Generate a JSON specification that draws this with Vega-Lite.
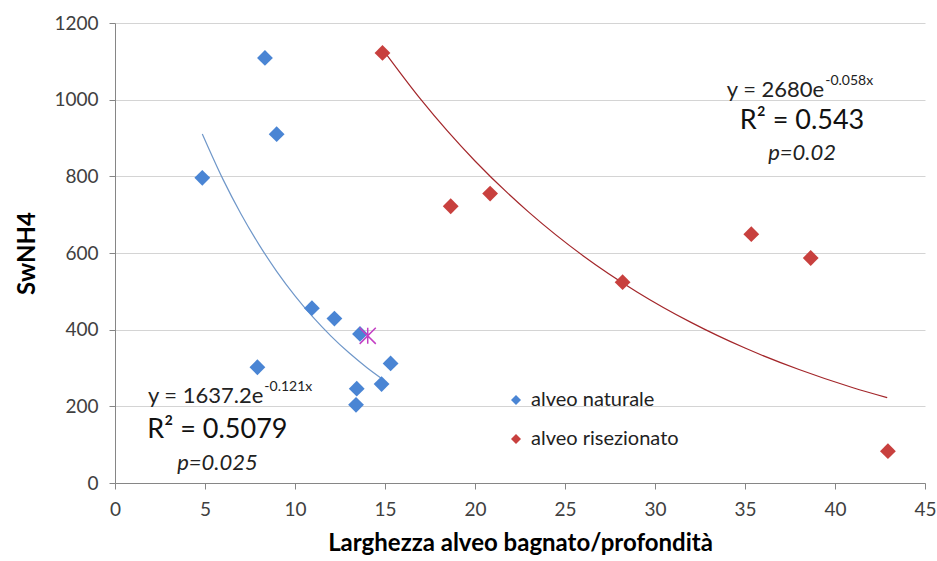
{
  "$schema": "https://vega.github.io/schema/vega-lite/v6.json",
  "width": 810,
  "height": 460,
  "autosize": {"type": "none"},
  "padding": {"left": 115, "top": 23, "right": 12, "bottom": 78},
  "background": "white",
  "config": {
    "font": "Lato",
    "view": {"stroke": null},
    "axis": {
      "domainColor": "#868686",
      "tickColor": "#868686",
      "tickSize": 6,
      "labelFontSize": 19,
      "labelColor": "#404040",
      "titleFontSize": 24,
      "titleFontWeight": "bold",
      "titleColor": "#000000",
      "gridColor": "#d4d4d4"
    },
    "legend": {
      "labelFontSize": 20,
      "labelColor": "#222222",
      "symbolSize": 100,
      "symbolType": "diamond",
      "rowPadding": 19,
      "labelOffset": 5
    }
  },
  "datasets": {
    "points": [
      {"x": 8.33, "y": 1109, "group": "alveo naturale"},
      {"x": 8.98, "y": 910, "group": "alveo naturale"},
      {"x": 4.85, "y": 796, "group": "alveo naturale"},
      {"x": 10.94, "y": 456, "group": "alveo naturale"},
      {"x": 12.19, "y": 429, "group": "alveo naturale"},
      {"x": 13.61, "y": 389, "group": "alveo naturale"},
      {"x": 7.91, "y": 302, "group": "alveo naturale"},
      {"x": 15.31, "y": 312, "group": "alveo naturale"},
      {"x": 14.81, "y": 258, "group": "alveo naturale"},
      {"x": 13.43, "y": 246, "group": "alveo naturale"},
      {"x": 13.39, "y": 204, "group": "alveo naturale"},
      {"x": 14.86, "y": 1122, "group": "alveo risezionato"},
      {"x": 18.65, "y": 722, "group": "alveo risezionato"},
      {"x": 20.84, "y": 755, "group": "alveo risezionato"},
      {"x": 28.2, "y": 524, "group": "alveo risezionato"},
      {"x": 35.35, "y": 649, "group": "alveo risezionato"},
      {"x": 38.65, "y": 587, "group": "alveo risezionato"},
      {"x": 42.94, "y": 83, "group": "alveo risezionato"}
    ],
    "curves": [
      {"x": 4.85, "y": 910.5, "group": "alveo naturale"},
      {"x": 6, "y": 792.1, "group": "alveo naturale"},
      {"x": 7, "y": 701.9, "group": "alveo naturale"},
      {"x": 8, "y": 621.9, "group": "alveo naturale"},
      {"x": 9, "y": 551.0, "group": "alveo naturale"},
      {"x": 10, "y": 488.2, "group": "alveo naturale"},
      {"x": 11, "y": 432.6, "group": "alveo naturale"},
      {"x": 12, "y": 383.3, "group": "alveo naturale"},
      {"x": 13, "y": 339.6, "group": "alveo naturale"},
      {"x": 14, "y": 300.9, "group": "alveo naturale"},
      {"x": 14.81, "y": 272.8, "group": "alveo naturale"},
      {"x": 14.86, "y": 1132, "group": "alveo risezionato"},
      {"x": 17, "y": 1000, "group": "alveo risezionato"},
      {"x": 20, "y": 840, "group": "alveo risezionato"},
      {"x": 23, "y": 706, "group": "alveo risezionato"},
      {"x": 26, "y": 593, "group": "alveo risezionato"},
      {"x": 29, "y": 498.5, "group": "alveo risezionato"},
      {"x": 32, "y": 419, "group": "alveo risezionato"},
      {"x": 35, "y": 352, "group": "alveo risezionato"},
      {"x": 38, "y": 296, "group": "alveo risezionato"},
      {"x": 41, "y": 248.5, "group": "alveo risezionato"},
      {"x": 42.9, "y": 222.7, "group": "alveo risezionato"}
    ],
    "star": [{"x": 14.04, "y": 384}],
    "labels": [
      {"x": 8.24, "y": 227.5, "text": "y = 1637.2e", "kind": "eq"},
      {"x": 8.24, "y": 227.5, "text": "-0.121x", "kind": "sup"},
      {"x": 5.69, "y": 139, "text": "R² = 0.5079", "kind": "r2"},
      {"x": 5.69, "y": 52, "text": "p=0.025", "kind": "p"},
      {"x": 39.4, "y": 1025, "text": "y = 2680e", "kind": "eq"},
      {"x": 39.4, "y": 1025, "text": "-0.058x", "kind": "sup"},
      {"x": 38.17, "y": 944, "text": "R² = 0.543", "kind": "r2"},
      {"x": 38.17, "y": 862, "text": "p=0.02", "kind": "p"}
    ]
  },
  "layer": [
    {
      "data": {"name": "curves"},
      "transform": [{"filter": "datum.group === 'alveo naturale'"}],
      "mark": {"type": "line", "color": "#6f97c9", "strokeWidth": 1.2, "interpolate": "monotone"},
      "encoding": {
        "x": {"field": "x", "type": "quantitative"},
        "y": {"field": "y", "type": "quantitative"}
      }
    },
    {
      "data": {"name": "curves"},
      "transform": [{"filter": "datum.group === 'alveo risezionato'"}],
      "mark": {"type": "line", "color": "#a3262a", "strokeWidth": 1.2, "interpolate": "monotone"},
      "encoding": {
        "x": {"field": "x", "type": "quantitative"},
        "y": {"field": "y", "type": "quantitative"}
      }
    },
    {
      "data": {"name": "points"},
      "mark": {"type": "point", "shape": "diamond", "filled": true, "opacity": 1, "size": 250},
      "encoding": {
        "x": {
          "field": "x", "type": "quantitative",
          "scale": {"domain": [0, 45], "nice": false, "zero": true},
          "axis": {
            "title": "Larghezza alveo bagnato/profondità",
            "values": [0, 5, 10, 15, 20, 25, 30, 35, 40, 45],
            "grid": false,
            "labelPadding": 11,
            "titlePadding": 12,
            "labelFlush": false
          }
        },
        "y": {
          "field": "y", "type": "quantitative",
          "scale": {"domain": [0, 1200], "nice": false},
          "axis": {
            "title": "SwNH4",
            "format": "d",
            "values": [0, 200, 400, 600, 800, 1000, 1200],
            "grid": true,
            "labelPadding": 11,
            "titlePadding": 14,
            "labelFlush": false
          }
        },
        "color": {
          "field": "group", "type": "nominal",
          "scale": {"domain": ["alveo naturale", "alveo risezionato"], "range": ["#4a85d4", "#c8403e"]},
          "legend": {"title": null, "orient": "none", "legendX": 391, "legendY": 367}
        }
      }
    },
    {
      "data": {"name": "star"},
      "mark": {"type": "point", "shape": "M-1,-1L1,1M-1,1L1,-1M0,-1L0,1", "filled": false, "stroke": "#c43fc4", "strokeWidth": 1.5, "opacity": 1, "size": 260},
      "encoding": {
        "x": {"field": "x", "type": "quantitative"},
        "y": {"field": "y", "type": "quantitative"}
      }
    },
    {
      "data": {"name": "labels"},
      "transform": [{"filter": "datum.kind === 'eq'"}],
      "mark": {"type": "text", "align": "right", "baseline": "middle", "fontSize": 22, "color": "#222222"},
      "encoding": {
        "x": {"field": "x", "type": "quantitative"},
        "y": {"field": "y", "type": "quantitative"},
        "text": {"field": "text"}
      }
    },
    {
      "data": {"name": "labels"},
      "transform": [{"filter": "datum.kind === 'sup'"}],
      "mark": {"type": "text", "align": "left", "baseline": "middle", "fontSize": 14, "dy": -9, "dx": 1, "color": "#222222"},
      "encoding": {
        "x": {"field": "x", "type": "quantitative"},
        "y": {"field": "y", "type": "quantitative"},
        "text": {"field": "text"}
      }
    },
    {
      "data": {"name": "labels"},
      "transform": [{"filter": "datum.kind === 'r2'"}],
      "mark": {"type": "text", "align": "center", "baseline": "middle", "fontSize": 27, "color": "#111111"},
      "encoding": {
        "x": {"field": "x", "type": "quantitative"},
        "y": {"field": "y", "type": "quantitative"},
        "text": {"field": "text"}
      }
    },
    {
      "data": {"name": "labels"},
      "transform": [{"filter": "datum.kind === 'p'"}],
      "mark": {"type": "text", "align": "center", "baseline": "middle", "fontSize": 22, "fontStyle": "italic", "color": "#222222"},
      "encoding": {
        "x": {"field": "x", "type": "quantitative"},
        "y": {"field": "y", "type": "quantitative"},
        "text": {"field": "text"}
      }
    }
  ]
}
